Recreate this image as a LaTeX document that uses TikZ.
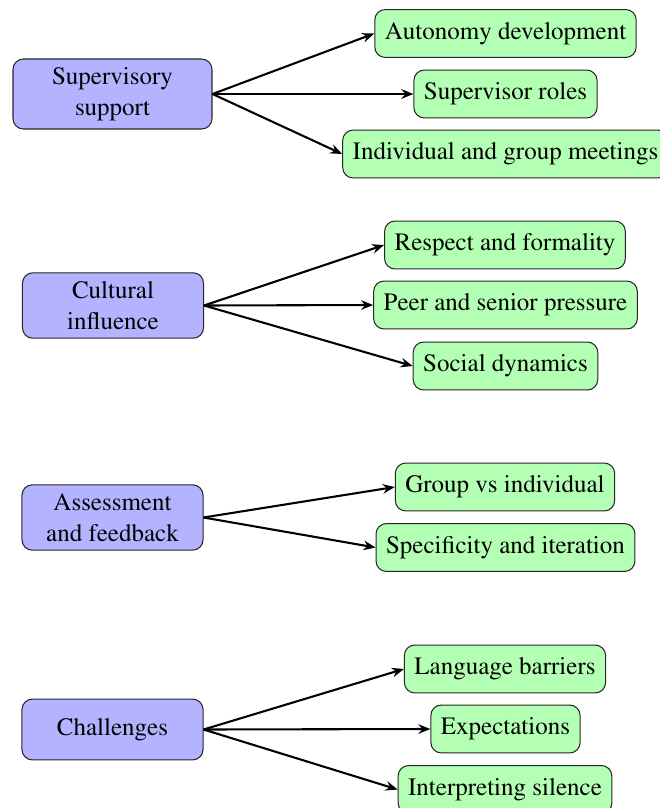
\documentclass[tikz,border=0pt]{standalone}
\usepackage[T1]{fontenc}
\usepackage{mathptmx}
\usetikzlibrary{arrows.meta}
\definecolor{cblue}{RGB}{179,179,255}
\definecolor{cgreen}{RGB}{179,255,179}
\begin{document}
\begin{tikzpicture}[x=0.48pt,y=-0.48pt,
  catbox/.style={draw=black!85,line width=0.5pt,fill=cblue,rounded corners=5pt,align=center,font=\fontsize{12}{14.8}\selectfont,minimum width=86.9pt,inner xsep=4pt},
  subbox/.style={draw=black!85,line width=0.5pt,fill=cgreen,rounded corners=5pt,font=\fontsize{12}{14.8}\selectfont,minimum height=23pt,inner xsep=4.8pt},
  link/.style={line width=1pt,-{Stealth[length=5.8pt,width=4.6pt,inset=2pt]}}]
\useasboundingbox (0,0) rectangle (659,808);
\node[catbox,minimum width=95.5pt,minimum height=33.6pt] (sup) at (112.5,94) {Supervisory\\support};
\node[catbox,minimum height=31.4pt] (cul) at (113,305.5) {Cultural\\influence};
\node[catbox,minimum height=31.4pt] (ass) at (112.5,517.5) {Assessment\\and feedback};
\node[catbox,minimum height=29.2pt] (cha) at (112.5,729.5) {Challenges};
\node[subbox] (aut) at (505.5,33.5) {Autonomy development};
\node[subbox] (rol) at (505.5,94) {Supervisor roles};
\node[subbox] (ind) at (505.5,154) {Individual and group meetings};
\node[subbox] (res) at (505,245) {Respect and formality};
\node[subbox] (pee) at (505.5,305) {Peer and senior pressure};
\node[subbox] (soc) at (505.5,366) {Social dynamics};
\node[subbox] (gro) at (505,487) {Group vs individual};
\node[subbox] (spe) at (505.5,547.5) {Specificity and iteration};
\node[subbox] (lan) at (505,669) {Language barriers};
\node[subbox] (exp) at (505.5,729) {Expectations};
\node[subbox] (int) at (505,789.5) {Interpreting silence};
\draw[link] (sup.east) -- (aut.west);
\draw[link] (sup.east) -- (rol.west);
\draw[link] (sup.east) -- (ind.west);
\draw[link] (cul.east) -- (res.west);
\draw[link] (cul.east) -- (pee.west);
\draw[link] (cul.east) -- (soc.west);
\draw[link] (ass.east) -- (gro.west);
\draw[link] (ass.east) -- (spe.west);
\draw[link] (cha.east) -- (lan.west);
\draw[link] (cha.east) -- (exp.west);
\draw[link] (cha.east) -- (int.west);
\end{tikzpicture}
\end{document}
